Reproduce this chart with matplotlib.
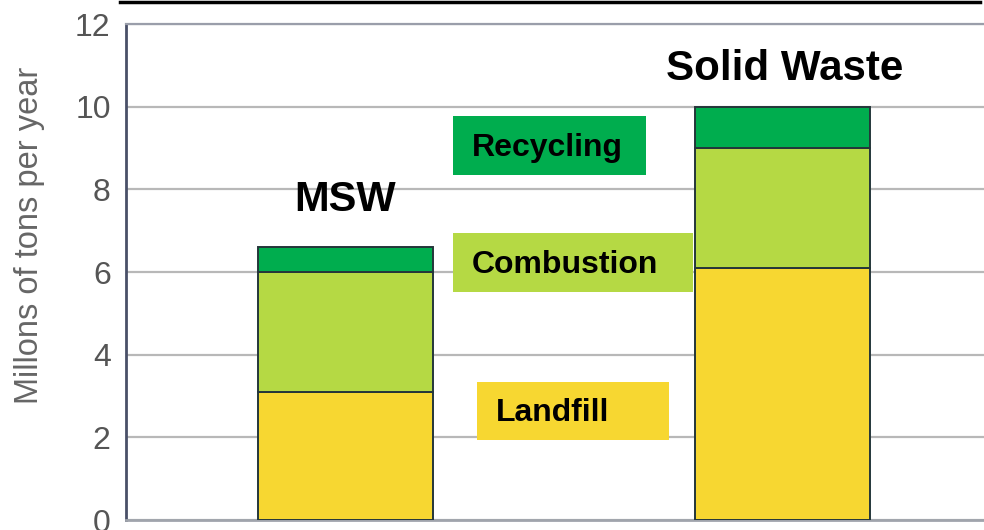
import matplotlib
matplotlib.use("Agg")
import matplotlib.pyplot as plt
from matplotlib.patches import Rectangle
from matplotlib.lines import Line2D

plt.rcParams['font.family'] = ['Liberation Sans', 'DejaVu Sans']

categories = ["MSW", "Solid Waste"]
landfill = [3.1, 6.1]
combustion = [2.9, 2.9]
recycling = [0.6, 1.0]
yticks = [0, 2, 4, 6, 8, 10, 12]
ylabel = "Millons of tons per year"

c_land = "#f7d731"
c_comb = "#b5d944"
c_recy = "#00ad4e"
edge = "#24363a"

fig = plt.figure(figsize=(9.84, 5.30), dpi=100)
W, H = 984, 530
ax = fig.add_axes([126 / W, 10 / H, (984 - 126) / W, (520 - 24) / H])

x = list(range(len(categories)))
bw = 0.4
b1 = [0] * len(x)
b2 = [l for l in landfill]
b3 = [l + c for l, c in zip(landfill, combustion)]
ax.bar(x, landfill, bw, bottom=b1, color=c_land, edgecolor=edge, linewidth=1.4, zorder=3)
ax.bar(x, combustion, bw, bottom=b2, color=c_comb, edgecolor=edge, linewidth=1.4, zorder=3)
ax.bar(x, recycling, bw, bottom=b3, color=c_recy, edgecolor=edge, linewidth=1.4, zorder=3)

ax.set_xlim(-0.5023, 1.461)
ax.set_ylim(0, 12)
ax.set_yticks(yticks)
ax.set_yticklabels([str(t) for t in yticks])
ax.set_xticks([])
ax.tick_params(axis='y', length=0, pad=11, labelsize=23, labelcolor="#555555")
ax.yaxis.grid(True, color="#b8b8b8", linewidth=1.6, zorder=0)
ax.set_axisbelow(True)
ax.spines["right"].set_visible(False)
ax.spines["top"].set_color("#9a9eaa")
ax.spines["top"].set_linewidth(1.6)
ax.spines["bottom"].set_color("#a0a4ac")
ax.spines["bottom"].set_linewidth(2)
ax.spines["left"].set_color("#4a5068")
ax.spines["left"].set_linewidth(2)

fig.text(30 / W, 1 - 235 / H, ylabel, rotation=90, ha='center', va='center',
         fontsize=23.5, color="#666666")

# category titles
totals = [a + b + c for a, b, c in zip(landfill, combustion, recycling)]
ax.text(0, totals[0] + 1.14, categories[0], ha='center', va='center',
        fontsize=30, fontweight='bold', color='black')
ax.text(1.005, totals[1] + 0.92, categories[1], ha='center', va='center',
        fontsize=30.3, fontweight='bold', color='black')

# label boxes
boxes = [
    ("Recycling", c_recy, 0.246, 8.35, 0.442, 1.43, 0.289, 9.0),
    ("Combustion", c_comb, 0.246, 5.52, 0.549, 1.42, 0.289, 6.17),
    ("Landfill", c_land, 0.301, 1.94, 0.439, 1.40, 0.345, 2.59),
]
for name, col, bx, by, bwid, bh, tx, ty in boxes:
    ax.add_patch(Rectangle((bx, by), bwid, bh, facecolor=col, edgecolor='none', zorder=4))
    ax.text(tx, ty, name, ha='left', va='center', fontsize=23, fontweight='bold',
            color='black', zorder=5)

# top decorative rule
fig.add_artist(Line2D([120 / W, 980 / W], [1 - 1.5 / H, 1 - 1.5 / H], color='black',
                      linewidth=2.5, transform=fig.transFigure))

fig.savefig("out.png", dpi=100)
